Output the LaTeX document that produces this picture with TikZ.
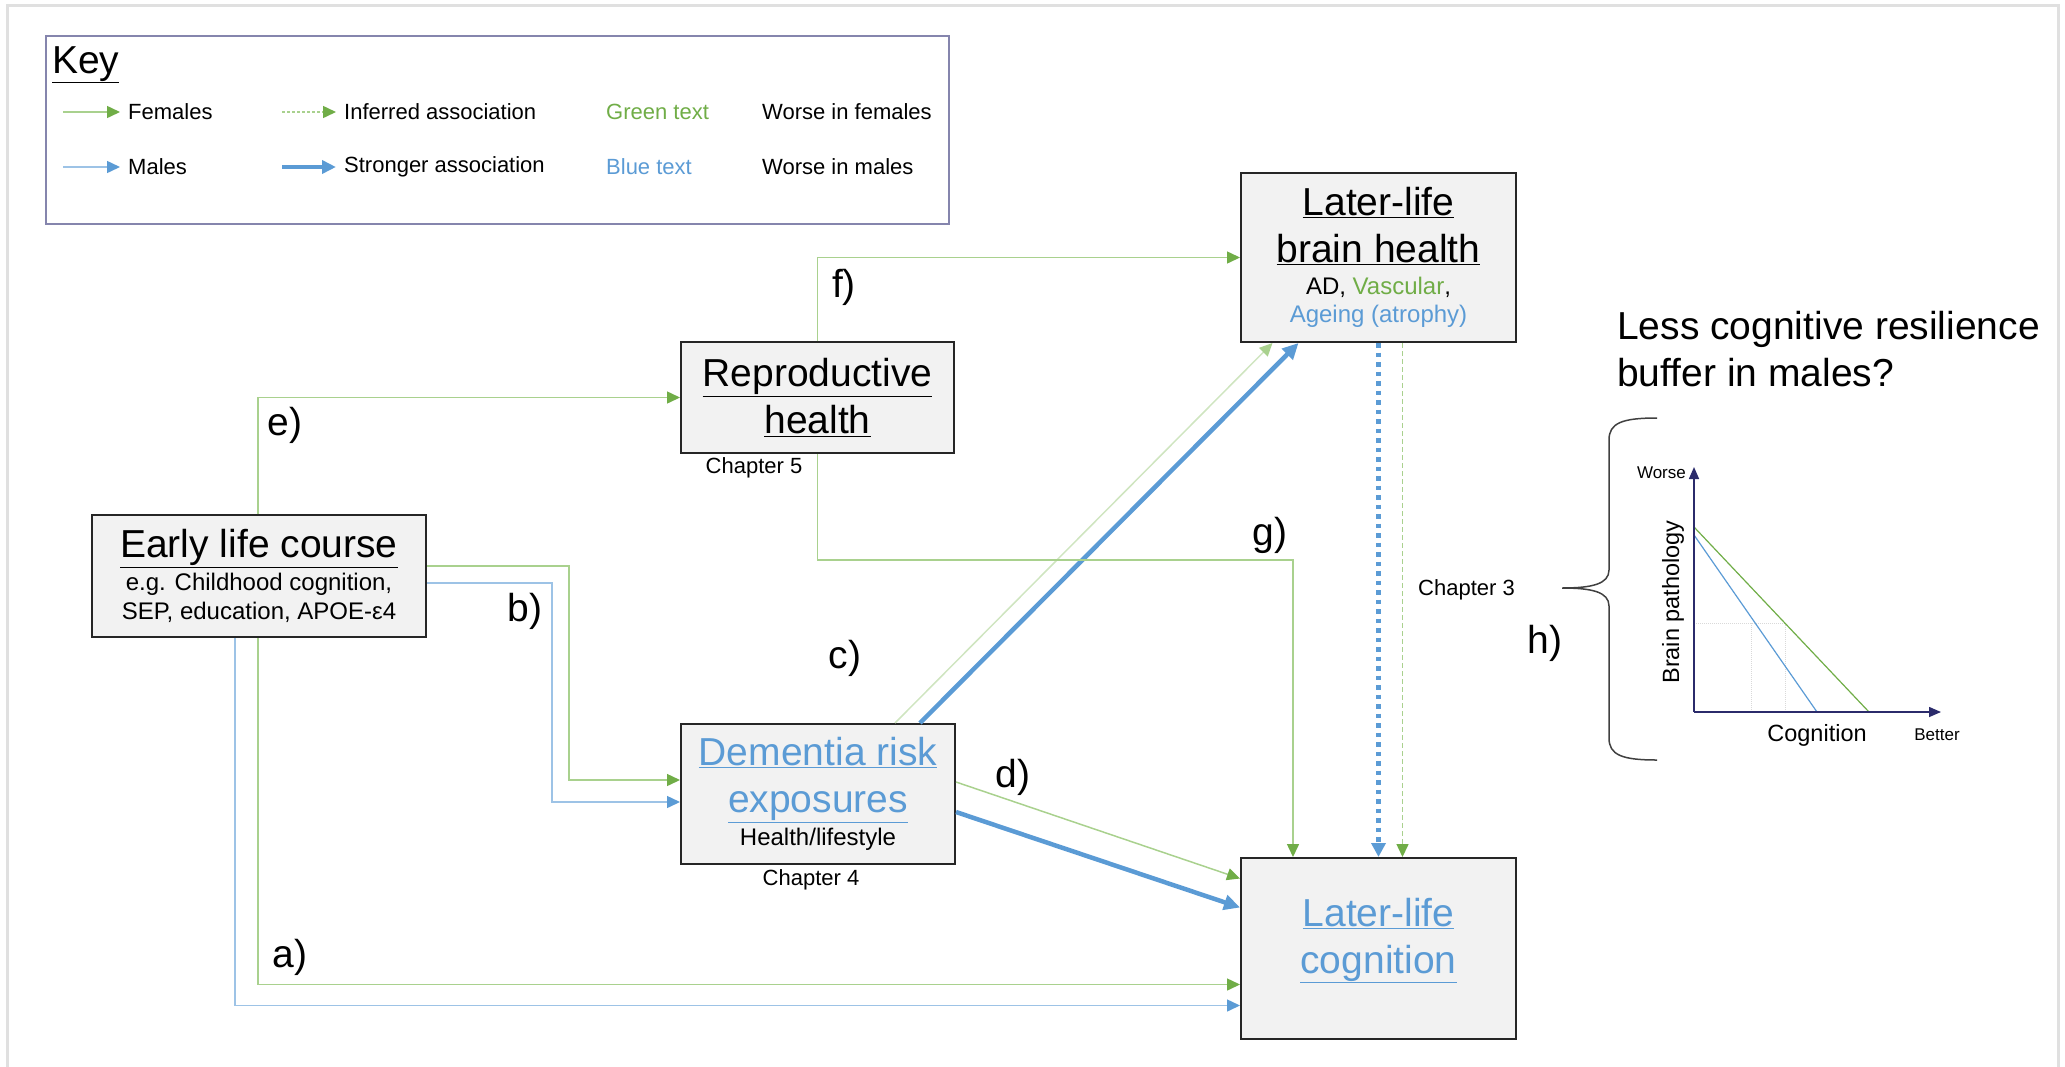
\documentclass[tikz,border=0pt]{standalone}
\usepackage{fontspec}
\setmainfont{Liberation Sans}
\usetikzlibrary{arrows.meta,positioning,calc}
\definecolor{fgreen}{HTML}{70AD47}
\definecolor{fgreenlt}{HTML}{A9D18E}
\definecolor{fgreenpale}{HTML}{CFE5C0}
\definecolor{mblue}{HTML}{5B9BD5}
\definecolor{mbluelt}{HTML}{9DC3E6}
\definecolor{boxgrey}{HTML}{F2F2F2}
\definecolor{keyframe}{HTML}{8585AD}
\definecolor{axisnavy}{HTML}{2B2B6B}
\newcommand{\bigtxt}{\fontsize{39}{47}\selectfont}
\newcommand{\smalltxt}{\fontsize{24}{30}\selectfont}
\newcommand{\keytxt}{\fontsize{22}{26}\selectfont}

\begin{document}
\begin{tikzpicture}[x=1pt, y=-1pt,
    stage/.style={draw=black!85, line width=2pt, fill=boxgrey, inner sep=0pt, align=center, font=\bigtxt},
    fline/.style={draw=fgreenlt, line width=1.5pt, -{Triangle[length=13pt,width=12pt,color=fgreen]}},
    mline/.style={draw=mbluelt, line width=1.5pt, -{Triangle[length=13pt,width=12pt,color=mblue]}},
    mthick/.style={draw=mblue, line width=4.5pt, -{Triangle[length=16pt,width=15pt]}},
    letter/.style={font=\bigtxt, inner sep=0pt},
    chap/.style={font=\keytxt, inner sep=0pt}]
  \useasboundingbox (0,0) rectangle (2065,1066);
  \draw[black!12, line width=3pt] (7,5) rectangle (2058,1085);

  % Key
  \node[draw=keyframe, line width=1.5pt, minimum width=903, minimum height=188, anchor=north west, inner sep=0pt] (key) at (45,35) {};
  \node[anchor=base west, font=\fontsize{39}{44}\selectfont, inner sep=0pt] (keyttl) at ($(key.north west)+(7,38)$) {\underline{Key}};
  \node[chap, anchor=west] (kfem) at (128,112) {Females};
  \node[chap, anchor=west] (kmal) at (128,167) {Males};
  \node[chap, anchor=west] (kinf) at (344,112) {Inferred association};
  \node[chap, anchor=west] (kstr) at (344,167) {Stronger association};
  \node[chap, anchor=west, text=fgreen] (kgtx) at (606,112) {Green text};
  \node[chap, anchor=west, text=mblue] (kbtx) at (606,167) {Blue text};
  \node[chap, anchor=west] (kwf) at (762,112) {Worse in females};
  \node[chap, anchor=west] (kwm) at (762,167) {Worse in males};
  \draw[fline] ($(kfem.west)+(-65,0)$) -- ($(kfem.west)+(-8,0)$);
  \draw[mline] ($(kmal.west)+(-65,0)$) -- ($(kmal.west)+(-8,0)$);
  \draw[fline, dash pattern=on 3pt off 2pt] ($(kinf.west)+(-62,0)$) -- ($(kinf.west)+(-8,0)$);
  \draw[mthick, -{Triangle[length=14pt,width=13pt]}] ($(kstr.west)+(-62,0)$) -- ($(kstr.west)+(-8,0)$);

  % Stages
  \node[stage, minimum width=334, minimum height=122] (early) at (259,576)
    {\underline{Early life course}\\[-14pt]\smalltxt e.g. Childhood cognition,\\[-18pt]\smalltxt SEP, education, APOE-ε4};
  \node[stage, minimum width=273, minimum height=111] (repro) at (817.5,397.5)
    {\underline{Reproductive}\\\underline{health}};
  \node[stage, minimum width=275, minimum height=169] (brain) at (1378.5,257.5)
    {\underline{Later-life}\\\underline{brain health}\\[-15pt]\smalltxt AD, \textcolor{fgreen}{Vascular},\\[-19pt]\smalltxt\textcolor{mblue}{Ageing (atrophy)}};
  \node[stage, minimum width=274, minimum height=140, text=mblue] (risk) at (818,794)
    {\underline{Dementia risk}\\\underline{exposures}\\[-14pt]\smalltxt\textcolor{black}{Health/lifestyle}};
  \node[stage, minimum width=275, minimum height=181, text=mblue, text depth=26pt] (cog) at (1378.5,948.5)
    {\underline{Later-life}\\\underline{cognition}};

  % Chapters
  \node[chap] (ch5) at (754,468) {Chapter 5};
  \node[chap] (ch4) at (811,880) {Chapter 4};
  \node[chap, anchor=west] (ch3) at (1418,590) {Chapter 3};

  % Connections
  \draw[fline] ($(early.south)+(-1,0)$) |- ($(cog.west)+(0,36)$);
  \draw[mline] ($(early.south)+(-24,0)$) |- ($(cog.west)+(0,57)$);
  \draw[fline] ($(early.east)+(0,-10)$) -| ($(risk.west)+(-111,-14)$) -- ($(risk.west)+(0,-14)$);
  \draw[mline] ($(early.east)+(0,7)$) -| ($(risk.west)+(-128,8)$) -- ($(risk.west)+(0,8)$);
  \draw[fline, draw=fgreenpale, -{Triangle[length=13pt,width=12pt,color=fgreenlt]}] ($(risk.north)+(77,0)$) -- ($(brain.south)+(-106,0)$);
  \draw[mthick] ($(risk.north)+(102,0)$) -- ($(brain.south)+(-80,0)$);
  \draw[fline] ($(risk.east)+(0,-12)$) -- ($(cog.west)+(0,-70)$);
  \draw[mthick] ($(risk.east)+(0,18)$) -- ($(cog.west)+(0,-41)$);
  \draw[fline] ($(early.north)+(-1,0)$) |- (repro.west);
  \draw[fline] (repro.north) |- (brain.west);
  \draw[fline] (repro.south) -- ++(0,106) -| ($(cog.north west)+(53,0)$);
  \draw[mthick, dash pattern=on 4.5pt off 5pt, -{Triangle[length=14pt,width=14pt]}] (brain.south) -- (cog.north);
  \draw[fline, dash pattern=on 5pt off 3pt] ($(brain.south)+(24,0)$) -- ($(cog.north)+(24,0)$);

  % Labels
  \node[letter] (la) at (290,957) {a)};
  \node[letter] (lb) at (525,611) {b)};
  \node[letter] (lc) at (845,658) {c)};
  \node[letter] (ld) at (1013,777) {d)};
  \node[letter] (le) at (285,425) {e)};
  \node[letter] (lf) at (844,287) {f)};
  \node[letter] (lg) at (1270,535) {g)};
  \node[letter] (lh) at (1545,643) {h)};

  % Resilience plot
  \node[anchor=north west, align=left, font=\bigtxt, inner sep=0pt] (quest) at (1617,311) {Less cognitive resilience\\buffer in males?};
  \draw[black!75, line width=1.5pt] (1657,418) .. controls (1622,418) and (1609,423) .. (1609,440) -- (1609,570)
    .. controls (1609,584) and (1592,588) .. (1562,588) .. controls (1592,588) and (1609,592) .. (1609,606)
    -- (1609,738) .. controls (1609,755) and (1622,760) .. (1657,760);
  \coordinate (o) at (1694,712);
  \draw[black!15, line width=1pt, densely dotted] (1694,623) -- (1785,623) (1751,623) -- (1751,712) (1785,623) -- (1785,712);
  \draw[fgreen, line width=1.2pt] (1694,527) -- (1869,712);
  \draw[mblue, line width=1.2pt] (1694,535) -- (1817,712);
  \draw[axisnavy, line width=1.5pt, -{Triangle[length=12pt,width=10pt]}] (o) -- (1694,467);
  \draw[axisnavy, line width=1.5pt, -{Triangle[length=12pt,width=10pt]}] (o) -- (1941,712);
  \node[anchor=east, font=\fontsize{17}{20}\selectfont, inner sep=0pt] (worse) at (1686,473) {Worse};
  \node[font=\fontsize{17}{20}\selectfont, inner sep=0pt] (better) at (1937,735) {Better};
  \node[font=\fontsize{23.5}{28}\selectfont, inner sep=0pt] (cogx) at (1817,735) {Cognition};
  \node[font=\fontsize{23.5}{28}\selectfont, inner sep=0pt, rotate=90] (path) at (1673,602) {Brain pathology};
\end{tikzpicture}
\end{document}
